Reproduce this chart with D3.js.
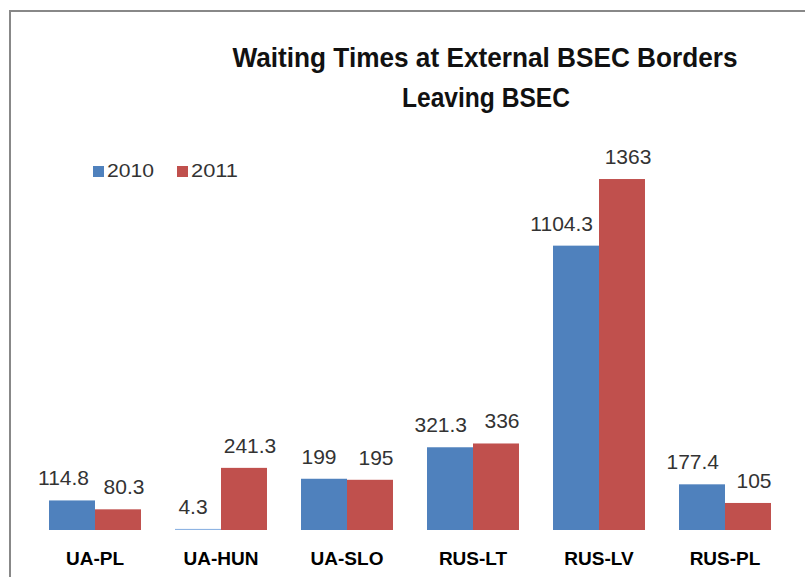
<script src="https://d3js.org/d3.v7.min.js"></script>
<style>
  body { margin: 0; background: #fff; }
  svg { display: block; }
</style>
<div class="vis"></div>

<script>
  // data
  let crossings = ["UA-PL", "UA-HUN", "UA-SLO", "RUS-LT", "RUS-LV", "RUS-PL"];
  let years = ["2010", "2011"];
  let wait2010 = [114.8, 4.3, 199, 321.3, 1104.3, 177.4];
  let wait2011 = [80.3, 241.3, 195, 336, 1363, 105];
  let valueLabels2010 = ["114.8", "4.3", "199", "321.3", "1104.3", "177.4"];
  let valueLabels2011 = ["80.3", "241.3", "195", "336", "1363", "105"];
  let titleLines = ["Waiting Times at External BSEC Borders", "Leaving BSEC"];

  let width = 805, height = 577;
  let colors = {"2010": "#4F81BD", "2011": "#C0504D"};
  let font = "'Liberation Sans', Arial, sans-serif";

  let rows = crossings.map((c, i) => ({
    name: c,
    values: [
      {year: "2010", v: wait2010[i], label: valueLabels2010[i]},
      {year: "2011", v: wait2011[i], label: valueLabels2011[i]}
    ]
  }));

  let svg = d3.select('.vis').append('svg')
    .attr("width", width)
    .attr("height", height)
    .attr("viewBox", [0, 0, width, height]);

  // frame of the chart area (cut off at right and bottom)
  svg.append("path")
    .attr("d", `M10,${height} V11 H${width}`)
    .attr("fill", "none")
    .attr("stroke", "#888")
    .attr("stroke-width", 2);

  // scales
  let x0 = d3.scaleBand()
    .domain(crossings)
    .range([32, 788])
    .paddingInner(0.27)
    .paddingOuter(0.135);
  let x1 = d3.scaleBand()
    .domain(years)
    .range([0, x0.bandwidth()]);
  let y = d3.scaleLinear()
    .domain([0, 1400])
    .range([530, 530 - 1400 * 0.2575]);

  // title
  let title = svg.append("g")
    .attr("font-family", font)
    .attr("font-weight", "bold")
    .attr("font-size", 28)
    .attr("fill", "#111")
    .attr("text-anchor", "middle");
  title.append("text")
    .attr("x", 485).attr("y", 67)
    .attr("textLength", 505)
    .attr("lengthAdjust", "spacingAndGlyphs")
    .text(titleLines[0]);
  title.append("text")
    .attr("x", 486).attr("y", 107)
    .attr("textLength", 168)
    .attr("lengthAdjust", "spacingAndGlyphs")
    .text(titleLines[1]);

  // legend
  let legend = svg.append("g")
    .attr("font-family", font)
    .attr("font-size", 19)
    .attr("fill", "#333");
  let legendX = d3.scaleOrdinal().domain(years).range([93, 177]);
  let item = legend.selectAll("g")
    .data(years)
    .join("g")
    .attr("transform", d => `translate(${legendX(d)},166)`);
  item.append("rect")
    .attr("width", 11).attr("height", 11)
    .attr("fill", d => colors[d]);
  item.append("text")
    .attr("x", 14).attr("y", 11)
    .attr("textLength", 47)
    .attr("lengthAdjust", "spacingAndGlyphs")
    .text(d => d);

  // bars
  let groups = svg.append("g").selectAll("g")
    .data(rows)
    .join("g")
    .attr("transform", d => `translate(${x0(d.name)},0)`);

  groups.selectAll("rect")
    .data(d => d.values)
    .join("rect")
    .attr("x", d => x1(d.year))
    .attr("y", d => y(d.v))
    .attr("width", x1.bandwidth())
    .attr("height", d => Math.max(1, y(0) - y(d.v)))
    .attr("fill", d => d.v < 10 ? "#8EB4E3" : colors[d.year]);

  // value labels, nudged outward so wide ones don't sit over the neighbour bar
  groups.selectAll("text")
    .data(d => d.values)
    .join("text")
    .attr("y", d => y(d.v) - 15)
    .attr("text-anchor", "middle")
    .attr("font-family", font)
    .attr("font-size", 21)
    .attr("fill", "#333")
    .text(d => d.label)
    .attr("x", function(d) {
      let w = this.getComputedTextLength();
      let cx = x1(d.year) + x1.bandwidth() / 2;
      if (d.year == "2010") {
        return Math.min(cx - 5, x1(d.year) + x1.bandwidth() - 6 - w / 2);
      }
      return cx + 6;
    });

  // category labels
  let xAxis = d3.axisBottom(x0).tickSize(0).tickPadding(0);
  let axis = svg.append("g")
    .attr("transform", "translate(0,548)")
    .call(xAxis);
  axis.select(".domain").remove();
  axis.selectAll("text")
    .attr("dy", "0.9em")
    .attr("font-family", font)
    .attr("font-weight", "bold")
    .attr("font-size", 19)
    .attr("fill", "#000");
</script>
